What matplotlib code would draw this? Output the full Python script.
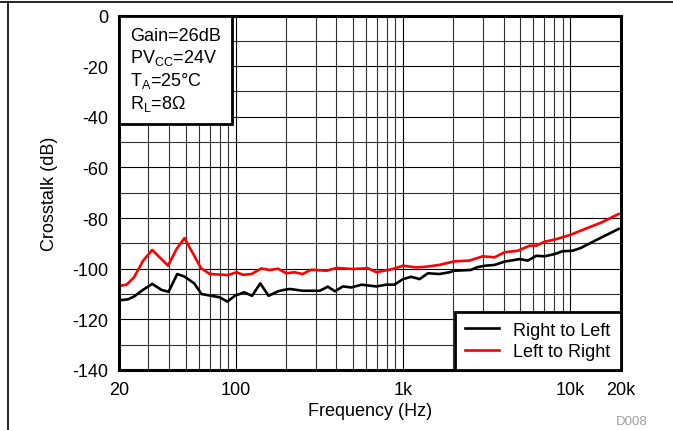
import numpy as np
import matplotlib
matplotlib.use("Agg")
import matplotlib.pyplot as plt
from matplotlib.lines import Line2D
from matplotlib.offsetbox import AnchoredText
from matplotlib.ticker import FixedLocator, NullFormatter

plt.rcParams["font.family"] = ["Liberation Sans", "DejaVu Sans"]
plt.rcParams["mathtext.fontset"] = "custom"
plt.rcParams["mathtext.rm"] = "Liberation Sans"
plt.rcParams["mathtext.it"] = "Liberation Sans"
plt.rcParams["axes.unicode_minus"] = False

# Right to Left (black)
freq_rl = [20.6, 22.6, 24.6, 27.9, 31.6, 36, 39.6, 44.6, 49.3, 56.4, 62.3, 71.4,
           80.1, 89, 98.6, 112, 125, 140, 157, 179, 196, 210, 251, 318, 355,
           392, 437, 490, 565, 692, 795, 888, 1000, 1120, 1256, 1410, 1652,
           1896, 2020, 2540, 2780, 3120, 3530, 4050, 4980, 5580, 6270, 7040,
           8080, 9000, 10330, 11580, 14500, 19470]
db_rl = [-112.4, -112.1, -111.0, -108.3, -106.0, -108.4, -109.1, -102.1, -103.1,
         -105.8, -110.0, -110.7, -111.3, -113.0, -110.7, -109.3, -110.7, -105.8,
         -110.7, -108.9, -108.3, -108.0, -108.7, -108.7, -107.1, -108.9, -107.0,
         -107.4, -106.3, -107.0, -106.3, -106.3, -104.1, -103.2, -104.1, -101.8,
         -102.1, -101.4, -100.8, -100.5, -99.4, -98.8, -98.5, -97.2, -96.2,
         -96.8, -94.9, -95.1, -94.2, -93.1, -92.9, -91.8, -88.5, -84.3]

# Left to Right (red)
freq_lr = [20.6, 22.2, 24.6, 27.9, 31.6, 39.3, 44.2, 49.3, 55.6, 61.9, 70, 89.9,
           101, 110.5, 124, 142, 159, 179, 200, 224, 251, 282, 349, 399, 500,
           617, 692, 870, 1000, 1200, 1376, 1652, 1850, 2020, 2490, 3000, 3530,
           4050, 4860, 5720, 6270, 7040, 8080, 9970, 12260, 15430, 19470]
db_lr = [-106.7, -106.3, -103.4, -96.8, -92.6, -98.8, -92.2, -87.9, -94.2, -99.8,
         -102.1, -102.5, -101.4, -102.4, -102.1, -99.9, -100.5, -100.0, -101.8,
         -101.4, -102.1, -100.4, -100.8, -99.7, -100.1, -99.8, -101.4, -100.1,
         -98.8, -99.5, -99.2, -98.5, -97.7, -97.1, -96.8, -95.1, -95.5, -93.5,
         -92.9, -90.9, -90.9, -89.3, -88.5, -86.7, -84.3, -81.7, -78.4]

xticks = [20, 100, 1000, 10000, 20000]
xtick_labels = ["20", "100", "1k", "10k", "20k"]
yticks = [0, -20, -40, -60, -80, -100, -120, -140]

fig = plt.figure(figsize=(6.73, 4.31), dpi=100)
ax = fig.add_axes([119 / 673, 60 / 431, 501.5 / 673, 354.5 / 431])

ax.plot(freq_rl, db_rl, color="black", lw=1.9, label="Right to Left", zorder=3)
ax.plot(freq_lr, db_lr, color="#ff0000", lw=1.9, label="Left to Right", zorder=3)

ax.set_xscale("log")
ax.set_xlim(20, 20000)
ax.set_ylim(-140, 0)

ax.xaxis.set_major_locator(FixedLocator(xticks))
ax.set_xticklabels(xtick_labels)
minors = [m * d for d in [10, 100, 1000] for m in range(2, 10)] + [10000]
ax.xaxis.set_minor_locator(FixedLocator([f for f in minors if 20 < f < 20000]))
ax.xaxis.set_minor_formatter(NullFormatter())
ax.set_yticks(yticks)
ax.yaxis.set_minor_locator(FixedLocator(np.arange(-130, 0, 20)))

ax.grid(True, which="major", color="black", lw=0.8)
ax.grid(True, which="minor", color="#303030", lw=0.8)
ax.tick_params(which="both", length=0, labelsize=13, pad=8)

for s in ax.spines.values():
    s.set_linewidth(2.2)
    s.set_zorder(5)

ax.set_xlabel("Frequency (Hz)", fontsize=13, labelpad=3)
ax.set_ylabel("Crosstalk (dB)", fontsize=13, labelpad=10)

info = AnchoredText("Gain=26dB\nPV$_{\\mathrm{CC}}$=24V\nT$_{\\mathrm{A}}$=25°C\nR$_{\\mathrm{L}}$=8Ω",
                    loc="upper left", borderpad=0, pad=0.62,
                    prop=dict(size=13, linespacing=1.2))
info.patch.set_linewidth(2)
info.patch.set_edgecolor("black")
info.zorder = 6
ax.add_artist(info)

leg = ax.legend(loc="lower right", fontsize=13, borderaxespad=0, fancybox=False,
                framealpha=1, edgecolor="black", handlelength=1.9,
                borderpad=0.55, labelspacing=0.25, handletextpad=0.8)
leg.get_frame().set_linewidth(2)
leg.set_zorder(6)

fig.text(632 / 673, 1 - 422 / 431, "D008", color="#a0a0a0", fontsize=9.5,
         ha="center", va="center")

fig.add_artist(Line2D([0, 1], [1 - 3 / 431, 1 - 3 / 431], color="black", lw=1.2))
fig.add_artist(Line2D([8 / 673, 8 / 673], [0, 1 - 3 / 431], color="black", lw=1.2))

fig.savefig("out.png", dpi=100)
